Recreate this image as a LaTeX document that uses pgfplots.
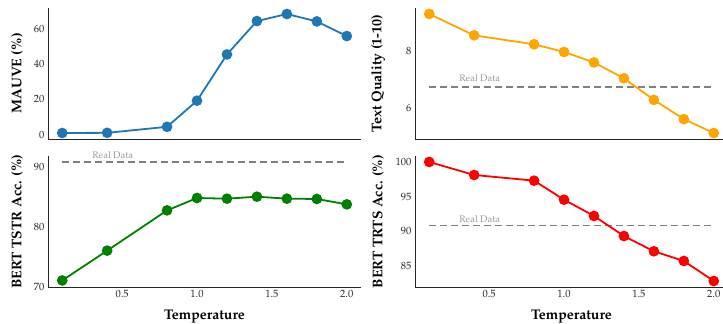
\documentclass[border=0pt]{standalone}
\usepackage[T1]{fontenc}
\usepackage{mathpazo}
\usepackage{pgfplots}
\pgfplotsset{compat=1.18}
\definecolor{tabblue}{HTML}{1F77B4}
\definecolor{myorange}{HTML}{FFA500}
\definecolor{mygreen}{HTML}{008000}
\definecolor{myred}{HTML}{FF0000}
\definecolor{spine}{HTML}{262626}
\pgfplotsset{
  myax/.style={
    scale only axis, width=313pt, height=131pt,
    xmin=0.005, xmax=2.095,
    axis x line*=bottom, axis y line*=left,
    axis line style={spine, line width=0.9pt},
    major tick length=0pt,
    tick label style={font=\fontsize{10.5}{12}\selectfont, text=spine},
    label style={font=\fontsize{14}{16}\selectfont\bfseries},
    xtick={0.5,1.0,1.5,2.0},
    xticklabel style={/pgf/number format/fixed, /pgf/number format/fixed zerofill, /pgf/number format/precision=1},
    every axis plot/.append style={line width=1.8pt, mark=*, mark size=4.4pt},
    clip=false,
  },
  toprow/.style={xticklabels={}},
  botrow/.style={xlabel={Temperature}, xlabel style={at={(axis description cs:0.5,-0.227)}, anchor=center}},
  leftcol/.style={ylabel style={at={(axis description cs:-0.099,0.5)}, anchor=center}},
  rightcol/.style={ylabel style={at={(axis description cs:-0.118,0.5)}, anchor=center}},
}
\tikzset{realline/.style={gray, line width=1.6pt, dash pattern=on 7pt off 4pt},
         reallabel/.style={anchor=base west, inner sep=0pt, text=black!40, font=\fontsize{9.5}{11}\selectfont}}
\begin{document}
\begin{tikzpicture}
% Top left: MAUVE
\begin{axis}[myax, toprow, leftcol, at={(48pt,185pt)}, anchor=south west,
  ymin=-2.4, ymax=71.8, ytick={0,20,40,60}, ylabel={MAUVE (\%)}]
\addplot[color=tabblue, mark options={fill=tabblue, draw=tabblue}] coordinates {
(0.1,1.0) (0.4,1.1) (0.8,4.5) (1.0,19.3) (1.2,45.5) (1.4,64.4) (1.6,68.4) (1.8,64.2) (2.0,55.9)};
\end{axis}
% Top right: Text Quality
\begin{axis}[myax, toprow, rightcol, at={(415pt,185pt)}, anchor=south west,
  ymin=4.91, ymax=9.53, ytick={6,8}, ylabel={Text Quality (1-10)}]
\addplot[realline, mark=none, forget plot] coordinates {(0.1,6.74) (2.0,6.74)};
\addplot[color=myorange, mark options={fill=myorange, draw=myorange}] coordinates {
(0.1,9.32) (0.4,8.565) (0.8,8.25) (1.0,7.98) (1.2,7.61) (1.4,7.05) (1.6,6.29) (1.8,5.61) (2.0,5.12)};
\node[reallabel] at (axis cs:0.3,6.94) {Real Data};
\end{axis}
% Bottom left: BERT TSTR
\begin{axis}[myax, botrow, leftcol, at={(48pt,37pt)}, anchor=south west,
  ymin=69.95, ymax=91.75, ytick={70,80,90}, ylabel={BERT TSTR Acc. (\%)}]
\addplot[realline, mark=none, forget plot] coordinates {(0.1,90.76) (2.0,90.76)};
\addplot[color=mygreen, mark options={fill=mygreen, draw=mygreen}] coordinates {
(0.1,71.04) (0.4,76.0) (0.8,82.7) (1.0,84.76) (1.2,84.65) (1.4,84.98) (1.6,84.65) (1.8,84.6) (2.0,83.7)};
\node[reallabel] at (axis cs:0.3,91.26) {Real Data};
\end{axis}
% Bottom right: BERT TRTS
\begin{axis}[myax, botrow, rightcol, at={(415pt,37pt)}, anchor=south west,
  ymin=81.94, ymax=100.86, ytick={85,90,95,100}, ylabel={BERT TRTS Acc. (\%)}]
\addplot[realline, mark=none, forget plot] coordinates {(0.1,90.8) (2.0,90.8)};
\addplot[color=myred, mark options={fill=myred, draw=myred}] coordinates {
(0.1,100.0) (0.4,98.12) (0.8,97.3) (1.0,94.55) (1.2,92.2) (1.4,89.3) (1.6,87.1) (1.8,85.7) (2.0,82.8)};
\node[reallabel] at (axis cs:0.3,91.3) {Real Data};
\end{axis}
\pgfresetboundingbox
\path[use as bounding box] (0,0) rectangle (723pt,324pt);
\end{tikzpicture}
\end{document}
